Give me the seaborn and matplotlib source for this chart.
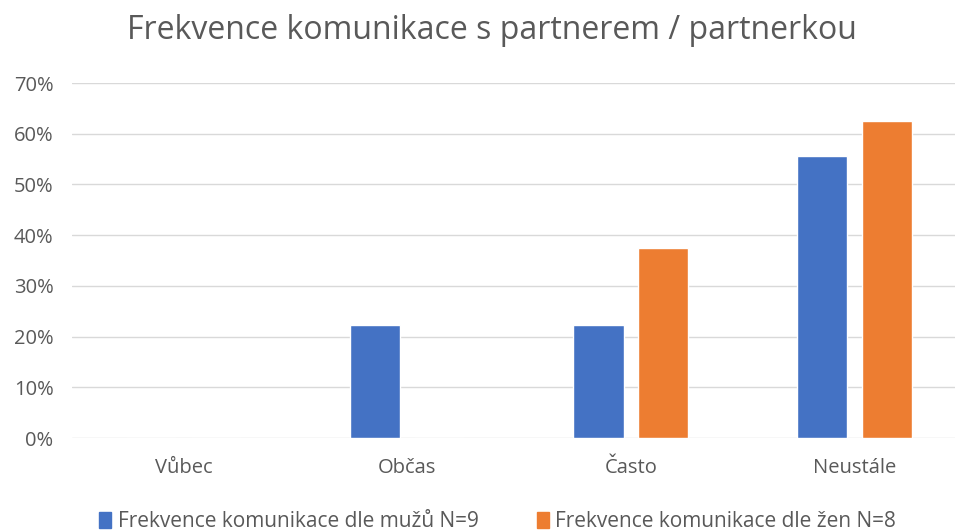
import seaborn as sns
import matplotlib.pyplot as plt
import pandas as pd
from matplotlib.ticker import PercentFormatter

categories = ["Vůbec", "Občas", "Často", "Neustále"]
muzi = [0.0, 0.222, 0.222, 0.556]
zeny = [0.0, 0.0, 0.375, 0.625]
series = ["Frekvence komunikace dle mužů N=9", "Frekvence komunikace dle žen N=8"]
colors = ["#4472C4", "#ED7D31"]

df = pd.DataFrame({
    "kategorie": categories * 2,
    "podil": muzi + zeny,
    "serie": [series[0]] * 4 + [series[1]] * 4,
})

sns.set_theme(style="white")
plt.rcParams["font.family"] = ["Open Sans", "DejaVu Sans"]
text_col = "#595959"

fig = plt.figure(figsize=(9.55, 5.31), dpi=100)
ax = fig.add_axes([0.0749, 0.175, 0.937, 0.6686])

sns.barplot(data=df, x="kategorie", y="podil", hue="serie", order=categories,
            palette=colors, width=0.578, gap=0.225, ax=ax, saturation=1)

ax.set_ylim(0, 0.7)
ax.set_yticks([i / 10 for i in range(8)])
ax.yaxis.set_major_formatter(PercentFormatter(1.0, decimals=0))
ax.grid(axis="y", color="#D9D9D9", linewidth=1)
ax.set_axisbelow(True)
for s in ax.spines.values():
    s.set_visible(False)
ax.tick_params(axis="both", length=0, labelsize=14.5, labelcolor=text_col)
ax.tick_params(axis="y", pad=13)
ax.tick_params(axis="x", pad=14)
ax.set_xlabel("")
ax.set_ylabel("")

ax.get_legend().remove()
handles = [plt.Rectangle((0, 0), 1, 1, color=c) for c in colors]
fig.legend(handles, series, loc="center", bbox_to_anchor=(0.521, 0.018), ncol=2,
           frameon=False, fontsize=15, labelcolor=text_col,
           handlelength=0.6, handleheight=0.8, handletextpad=0.3, columnspacing=2.8)

fig.text(0.515, 0.943, "Frekvence komunikace s partnerem / partnerkou",
         ha="center", va="center", fontsize=23, color=text_col)

fig.savefig("out.png", dpi=100)
